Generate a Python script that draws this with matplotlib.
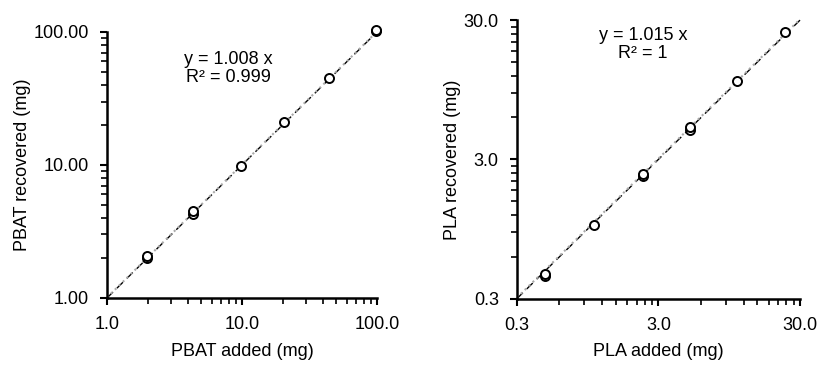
import numpy as np
import matplotlib
matplotlib.use("Agg")
import matplotlib.pyplot as plt
from matplotlib.ticker import FixedLocator, NullFormatter

plt.rcParams['font.family'] = ['Liberation Sans', 'DejaVu Sans']

# PBAT data
pbat_added = [1.98, 1.98, 4.33, 4.33, 9.8, 20.5, 44.0, 98.4, 98.4]
pbat_recovered = [1.99, 2.06, 4.28, 4.48, 9.8, 20.9, 45.2, 102.0, 104.0]
pbat_slope = 1.008
pbat_eq = "y = 1.008 x\nR² = 0.999"

# PLA data
pla_added = [0.475, 0.475, 1.06, 2.32, 2.32, 5.0, 5.0, 10.7, 23.6]
pla_recovered = [0.434, 0.45, 1.02, 2.28, 2.37, 4.84, 5.1, 10.9, 24.5]
pla_slope = 1.015
pla_eq = "y = 1.015 x\nR² = 1"

pbat_ticks = [1, 10, 100]
pbat_xlabels = ["1.0", "10.0", "100.0"]
pbat_ylabels = ["1.00", "10.00", "100.00"]
pla_ticks = [0.3, 3, 30]
pla_labels = ["0.3", "3.0", "30.0"]

fig = plt.figure(figsize=(8.31, 3.66), dpi=100)
ax1 = fig.add_axes([0.1288, 0.1860, 0.4537 - 0.1288, 0.9126 - 0.1860])
ax2 = fig.add_axes([0.622, 0.184, 0.9627 - 0.622, 0.945 - 0.184])

def style(ax, lo, hi, xt, xl, yl, xlabel, ylabel):
    ax.set_xscale('log')
    ax.set_yscale('log')
    ax.set_xlim(lo, hi)
    ax.set_ylim(lo, hi)
    for s in ['top', 'right']:
        ax.spines[s].set_visible(False)
    for s in ['left', 'bottom']:
        ax.spines[s].set_linewidth(1.8)
    ax.xaxis.set_major_locator(FixedLocator(xt))
    ax.yaxis.set_major_locator(FixedLocator(xt))
    minors = []
    for d in xt[:-1]:
        minors += [d * k for k in range(2, 10)]
    ax.xaxis.set_minor_locator(FixedLocator(minors))
    ax.yaxis.set_minor_locator(FixedLocator(minors))
    ax.xaxis.set_minor_formatter(NullFormatter())
    ax.yaxis.set_minor_formatter(NullFormatter())
    ax.set_xticklabels(xl)
    ax.set_yticklabels(yl)
    ax.tick_params(which='major', length=5, width=1.5, labelsize=13, direction='out')
    ax.tick_params(axis='x', which='major', pad=8)
    ax.tick_params(axis='y', which='major', pad=8)
    ax.tick_params(which='minor', length=4, width=1.2, direction='out')
    ax.set_xlabel(xlabel, fontsize=13, labelpad=7)
    ax.set_ylabel(ylabel, fontsize=13, labelpad=2)

# PBAT panel
style(ax1, 1, 100, pbat_ticks, pbat_xlabels, pbat_ylabels, "PBAT added (mg)", "PBAT recovered (mg)")
xr = np.array([1, 100])
ax1.plot(xr, xr, color='black', ls=(0, (6, 4)), lw=1.0, zorder=2)
ax1.plot(xr, pbat_slope * xr, color='#aaaaaa', ls=':', lw=1.5, zorder=2)
ax1.plot(pbat_added, pbat_recovered, 'o', mfc='white', mec='black', mew=1.4, ms=6.5, zorder=3, clip_on=False)
ax1.text(0.45, 0.93, pbat_eq, transform=ax1.transAxes, ha='center', va='top', fontsize=13, linespacing=1.1)

# PLA panel
style(ax2, 0.3, 30, pla_ticks, pla_labels, pla_labels, "PLA added (mg)", "PLA recovered (mg)")
xr2 = np.array([0.3, 30])
ax2.plot(xr2, xr2, color='black', ls=(0, (6, 4)), lw=1.0, zorder=2, clip_on=False)
ax2.plot(xr2, pla_slope * xr2, color='#aaaaaa', ls=':', lw=1.5, zorder=2)
ax2.plot(pla_added, pla_recovered, 'o', mfc='white', mec='black', mew=1.4, ms=6.5, zorder=3, clip_on=False)
ax2.text(0.445, 0.975, pla_eq, transform=ax2.transAxes, ha='center', va='top', fontsize=13, linespacing=1.1)

fig.savefig("out.png", dpi=100)
